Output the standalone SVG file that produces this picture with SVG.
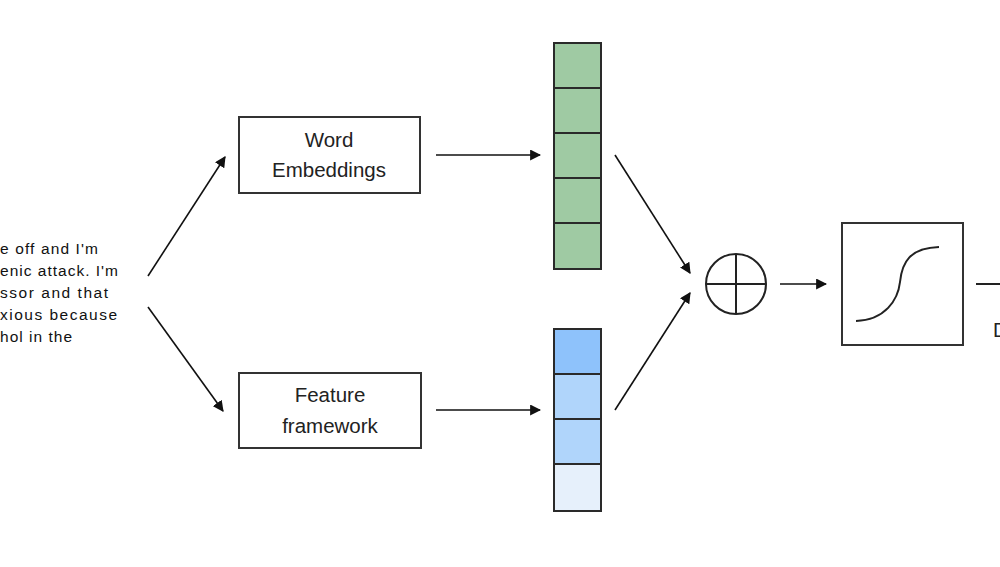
<svg xmlns="http://www.w3.org/2000/svg" width="1000" height="567" viewBox="0 0 1000 567">
<style>
.box{fill:#fff;stroke:#333;stroke-width:2}
.lbl{font-family:"Liberation Sans",Arial,sans-serif;font-size:20.5px;fill:#222;text-anchor:middle}
.inp{font-family:"Liberation Sans",Arial,sans-serif;font-size:15.5px;fill:#111}
.cell{stroke:#2a2a2a;stroke-width:2}
.arr{stroke:#111;stroke-width:1.6;fill:none;marker-end:url(#ah)}
</style>
<defs>
<marker id="ah" viewBox="0 0 10 10" refX="9" refY="5" markerWidth="11" markerHeight="11" markerUnits="userSpaceOnUse" orient="auto">
<path d="M0,0 L10,5 L0,10 z" fill="#111"/>
</marker>
</defs>
<rect width="1000" height="567" fill="#fff"/>
<g id="input">
<text class="inp" x="0" y="254" textLength="98" lengthAdjust="spacing">e off and I'm</text>
<text class="inp" x="0" y="276" textLength="118" lengthAdjust="spacing">enic attack. I'm</text>
<text class="inp" x="0" y="298" textLength="108" lengthAdjust="spacing">ssor and that</text>
<text class="inp" x="0" y="320" textLength="117" lengthAdjust="spacing">xious because</text>
<text class="inp" x="0" y="342" textLength="72" lengthAdjust="spacing">hol in the</text>
</g>
<g id="word-embeddings">
<rect class="box" x="239" y="117" width="181" height="76"/>
<text class="lbl" x="329" y="147">Word</text>
<text class="lbl" x="329" y="177">Embeddings</text>
</g>
<g id="feature-framework">
<rect class="box" x="239" y="373" width="182" height="75"/>
<text class="lbl" x="330" y="402">Feature</text>
<text class="lbl" x="330" y="433">framework</text>
</g>
<g id="green-vector">
<rect class="cell" x="554" y="43" width="47" height="45" fill="#9fcaa3"/>
<rect class="cell" x="554" y="88" width="47" height="45" fill="#9fcaa3"/>
<rect class="cell" x="554" y="133" width="47" height="45" fill="#9fcaa3"/>
<rect class="cell" x="554" y="178" width="47" height="45" fill="#9fcaa3"/>
<rect class="cell" x="554" y="223" width="47" height="46" fill="#9fcaa3"/>
</g>
<g id="blue-vector">
<rect class="cell" x="554" y="329" width="47" height="45" fill="#8ec2fb"/>
<rect class="cell" x="554" y="374" width="47" height="45" fill="#b0d5fb"/>
<rect class="cell" x="554" y="419" width="47" height="45" fill="#b0d5fb"/>
<rect class="cell" x="554" y="464" width="47" height="47" fill="#e6f0fb"/>
</g>
<g id="sum">
<circle cx="736" cy="284" r="30" fill="#fff" stroke="#222" stroke-width="2"/>
<line x1="706" y1="284" x2="766" y2="284" stroke="#222" stroke-width="2"/>
<line x1="736" y1="254" x2="736" y2="314" stroke="#222" stroke-width="2"/>
</g>
<g id="sigmoid">
<rect class="box" x="842" y="223" width="121" height="122"/>
<path d="M856,321 C885,320 898,300 900,282 C902,262 910,248 939,247" fill="none" stroke="#222" stroke-width="2"/>
</g>
<g id="output">
<text x="993" y="337" font-family="Liberation Sans,Arial,sans-serif" font-size="20" fill="#222">D</text>
</g>
<g id="connectors">
<line class="arr" x1="148" y1="276" x2="225" y2="157"/>
<line class="arr" x1="148" y1="307" x2="223" y2="411"/>
<line class="arr" x1="436" y1="155" x2="540" y2="155"/>
<line class="arr" x1="436" y1="410" x2="540" y2="410"/>
<line class="arr" x1="615" y1="155" x2="690" y2="273"/>
<line class="arr" x1="615" y1="410" x2="690" y2="293"/>
<line class="arr" x1="780" y1="284" x2="826" y2="284"/>
<line x1="976" y1="284" x2="1000" y2="284" stroke="#222" stroke-width="2"/>
</g>
</svg>
